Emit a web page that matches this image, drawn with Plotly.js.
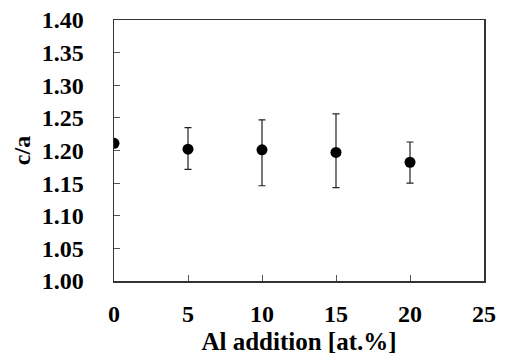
<!DOCTYPE html>
<html><head><meta charset="utf-8">
<script src="https://cdn.plot.ly/plotly-3.0.1.min.js"></script>
<style>html,body{margin:0;padding:0;background:#fff;}#chart{width:506px;height:356px;}</style>
</head><body><div id="chart"></div>
<script>
const alAddition = [0, 5, 10, 15, 20];
const cOverA = [1.211, 1.202, 1.201, 1.197, 1.182];
const errUpper = [0, 0.033, 0.046, 0.059, 0.031];
const errLower = [0, 0.031, 0.055, 0.054, 0.032];
const xTicks = [0, 5, 10, 15, 20, 25];
const yTicks = [1.00, 1.05, 1.10, 1.15, 1.20, 1.25, 1.30, 1.35, 1.40];

const fontFam = 'Times New Roman, Liberation Serif, DejaVu Serif, serif';
const trace = {
  x: alAddition, y: cOverA, type: 'scatter', mode: 'markers',
  marker: {color: '#000', size: 11},
  error_y: {type: 'data', symmetric: false, array: errUpper, arrayminus: errLower,
            color: '#222', thickness: 1.2, width: 3.5},
  showlegend: false
};
const layout = {
  width: 506, height: 356,
  margin: {l: 113.5, r: 22, t: 20, b: 75},
  paper_bgcolor: '#fff', plot_bgcolor: '#fff',
  font: {family: fontFam, color: '#000'},
  xaxis: {
    range: [0, 25], tickvals: xTicks, ticktext: xTicks.map(v => '<b>' + v + '</b>'),
    showgrid: false, zeroline: false, showline: true, mirror: true,
    linecolor: '#333', linewidth: 1.5, ticks: 'inside', ticklen: 6, tickcolor: '#555', tickwidth: 1,
    tickfont: {family: fontFam, size: 24, color: '#000'},
    ticklabelstandoff: 11,
    title: {text: '<b>Al addition [at.%]</b>', font: {family: fontFam, size: 25, color: '#000'}, standoff: 6}
  },
  yaxis: {
    range: [1.0, 1.4], tickvals: yTicks, ticktext: yTicks.map(v => '<b>' + v.toFixed(2) + '</b>'),
    showgrid: false, zeroline: false, showline: true, mirror: true,
    linecolor: '#333', linewidth: 1.5, ticks: 'inside', ticklen: 6, tickcolor: '#555', tickwidth: 1,
    tickfont: {family: fontFam, size: 24, color: '#000'},
    ticklabelstandoff: 24,
    title: {text: '<b>c/a</b>', font: {family: fontFam, size: 24, color: '#000'}, standoff: 4}
  }
};
Plotly.newPlot('chart', [trace], layout, {displayModeBar: false, staticPlot: true});
</script></body></html>
